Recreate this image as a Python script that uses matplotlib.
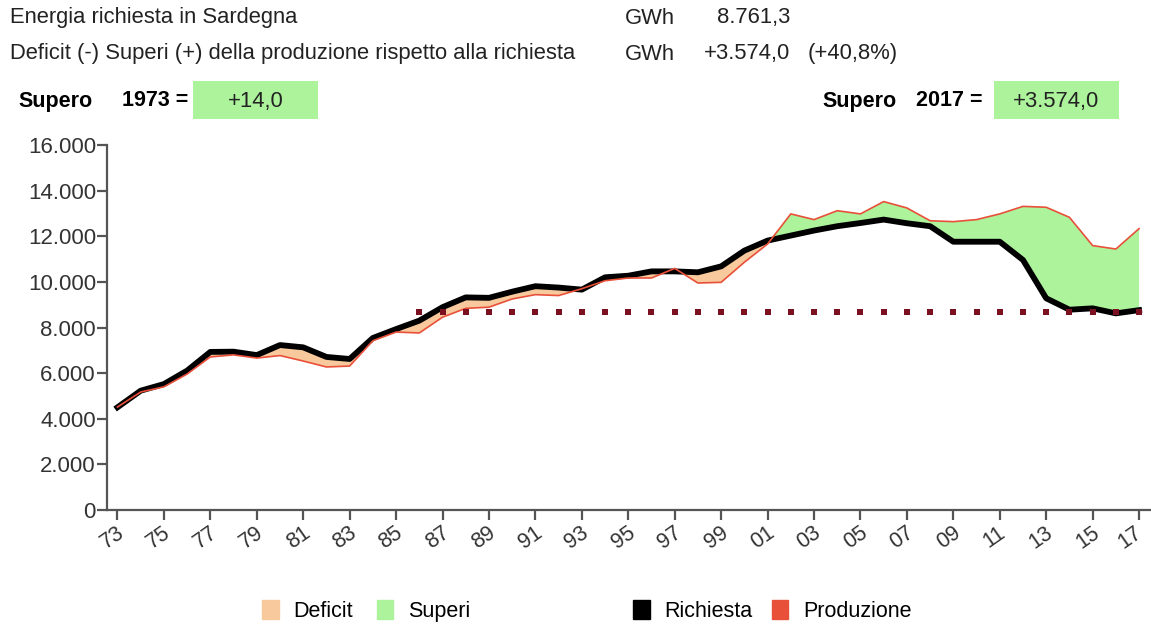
import numpy as np
import matplotlib.pyplot as plt
import matplotlib.transforms as mtransforms
from matplotlib.patches import Rectangle, Patch

plt.rcParams['font.family'] = ['Liberation Sans', 'DejaVu Sans']

# ---------------------------------------------------
# Data (GWh) - Sardegna, 1973-2017
# ---------------------------------------------------
years = np.arange(1973, 2018)
richiesta = [4500, 5230, 5520, 6110, 6930, 6940, 6790, 7230, 7130, 6710, 6620, 7540, 7930,
             8300, 8890, 9320, 9300, 9570, 9810, 9750, 9660, 10200, 10270, 10460, 10460, 10420, 10680,
             11370, 11810, 12030, 12250, 12440, 12580, 12730, 12570, 12440, 11760, 11760, 11760,
             10960, 9280, 8780, 8840, 8620, 8761.3]
produzione = [4514, 5170, 5400, 5960, 6710, 6800, 6660, 6770, 6530, 6270, 6310, 7420, 7800,
              7760, 8450, 8840, 8890, 9250, 9440, 9400, 9700, 10050, 10170, 10170, 10590, 9950, 9980,
              10860, 11660, 12980, 12730, 13120, 12980, 13520, 13240, 12680, 12640, 12730, 12980,
              13310, 13270, 12830, 11590, 11440, 12335.3]
ref_level = 8761.3      # richiesta 2017
ref_years = np.arange(1986, 2018)
yticks = [0, 2000, 4000, 6000, 8000, 10000, 12000, 14000, 16000]
ytick_labels = ['0', '2.000', '4.000', '6.000', '8.000', '10.000', '12.000', '14.000', '16.000']
xtick_years = np.arange(1973, 2018, 2)
xtick_labels = ['%02d' % (y % 100) for y in xtick_years]

c_deficit = '#F8C99C'
c_superi = '#ADF39C'
c_red = '#E8503A'
c_dot = '#7A1020'
c_txt = '#222222'

W, H = 1151, 627
fig = plt.figure(figsize=(W / 100, H / 100), dpi=100)

def fx(px):
    return px / W

def fy(py):
    return 1 - py / H

ax = fig.add_axes([fx(107), fy(510), fx(1150) - fx(107), fy(145) - fy(510)])

ric = np.array(richiesta)
prod = np.array(produzione)
ax.fill_between(years, ric, prod, where=prod < ric, interpolate=True, color=c_deficit, lw=0)
ax.fill_between(years, ric, prod, where=prod >= ric, interpolate=True, color=c_superi, lw=0)
ax.plot(years, ric, color='black', lw=4.2, solid_joinstyle='round', zorder=3)
ax.plot(years, prod, color=c_red, lw=1.2, zorder=4)
ax.plot(ref_years, np.full(len(ref_years), ref_level) - 100, ls='none', marker='s',
        ms=3.8, mew=0, color=c_dot, zorder=5)

ax.set_xlim(1972.55, 2017.47)
ax.set_ylim(0, 16000)
ax.set_yticks(yticks)
ax.set_yticklabels(ytick_labels, fontsize=16, color='#333333')
ax.set_xticks(xtick_years)
ax.set_xticklabels([])

# rotated year labels, nudged a bit left of each tick like the original
for i, (yr, lab) in enumerate(zip(xtick_years, xtick_labels)):
    dx = -5 if i < len(xtick_years) - 1 else -9
    off = mtransforms.ScaledTranslation(dx / 100, -12 / 100, fig.dpi_scale_trans)
    ax.text(yr, 0, lab, transform=ax.get_xaxis_transform() + off, fontsize=15.5,
            color='#333333', rotation=35, ha='center', va='top')

for s in ['top', 'right']:
    ax.spines[s].set_visible(False)
for s in ['left', 'bottom']:
    ax.spines[s].set_color('#555555')
    ax.spines[s].set_linewidth(1.6)
ax.tick_params(axis='both', color='#555555', width=1.6, length=7)
ax.tick_params(axis='y', pad=1)

# ---------------------------------------------------
# Header texts
# ---------------------------------------------------
hs = 15.8
fig.text(fx(10), fy(18), 'Energia richiesta in Sardegna', fontsize=hs, va='center', color=c_txt)
fig.text(fx(625), fy(18), 'GWh', fontsize=hs, va='center', color=c_txt)
fig.text(fx(790), fy(18), '8.761,3', fontsize=hs, va='center', ha='right', color=c_txt)
fig.text(fx(10), fy(54), 'Deficit (-) Superi (+) della produzione rispetto alla richiesta',
         fontsize=hs, va='center', color=c_txt)
fig.text(fx(625), fy(54), 'GWh', fontsize=hs, va='center', color=c_txt)
fig.text(fx(790), fy(54), '+3.574,0', fontsize=hs, va='center', ha='right', color=c_txt)
fig.text(fx(808), fy(54), '(+40,8%)', fontsize=hs, va='center', color=c_txt)

bs = 15.5
for x0, lab_x, yr_x, yr, val in [(193, 18, 122, '1973 =', '+14,0'),
                                  (994, 822, 916, '2017 =', '+3.574,0')]:
    fig.patches.append(Rectangle((fx(x0), fy(119)), fx(125), fy(81) - fy(119),
                                 transform=fig.transFigure, color=c_superi, lw=0))
    fig.text(fx(lab_x), fy(101), 'Supero', fontsize=bs, fontweight='bold', va='center')
    fig.text(fx(yr_x), fy(101), yr, fontsize=bs, fontweight='bold', va='center')
    fig.text(fx(x0 + 62.5), fy(101), val, fontsize=hs, va='center', ha='center', color=c_txt)

# ---------------------------------------------------
# Legends
# ---------------------------------------------------
h1 = [Patch(color=c_deficit, label='Deficit'), Patch(color=c_superi, label='Superi')]
h2 = [Patch(color='black', label='Richiesta'), Patch(color=c_red, label='Produzione')]
fig.legend(handles=h1, loc='center left', bbox_to_anchor=(fx(243), fy(611)), ncol=2,
           frameon=False, fontsize=15.5, handlelength=0.75, handleheight=1.0,
           handletextpad=0.7, columnspacing=1.1)
fig.legend(handles=h2, loc='center left', bbox_to_anchor=(fx(614), fy(611)), ncol=2,
           frameon=False, fontsize=15.5, handlelength=0.75, handleheight=1.0,
           handletextpad=0.7, columnspacing=0.9)

fig.savefig('out.png', dpi=100)
